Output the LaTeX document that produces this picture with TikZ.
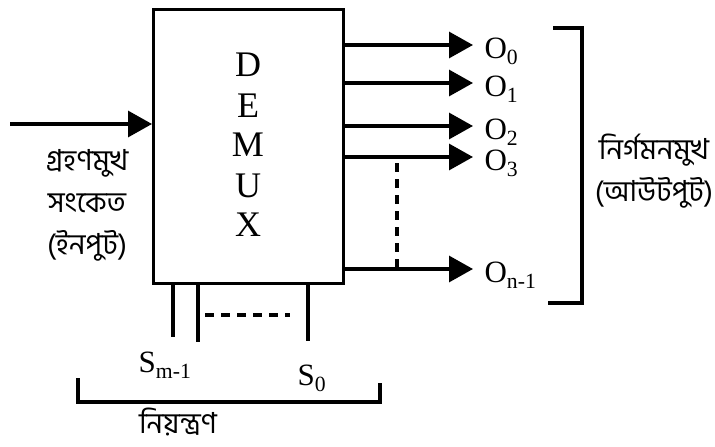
\documentclass[tikz,border=0pt]{standalone}
\usepackage{fontspec}
\setmainfont{Liberation Serif}
\newfontfamily\bnfont[Script=Bengali]{Hind Siliguri}
\usetikzlibrary{arrows.meta}
\tikzset{
  letterc/.style={font=\fontsize{36}{36}\selectfont,inner sep=0pt},
  pinlbl/.style={font=\fontsize{31}{31}\selectfont,inner sep=1pt},
  bnlbl/.style={font=\bnfont\fontsize{29}{42}\selectfont,align=center,inner sep=0pt},
  selline/.style={dash pattern=on 9pt off 7pt}
}

\begin{document}
\begin{tikzpicture}[x=1pt,y=-1pt,>={Triangle[length=24pt,width=26pt]},line width=3.2pt]
\useasboundingbox (0,0) rectangle (715,447);
% block
\node[draw,anchor=north west,minimum width=190pt,minimum height=274pt,inner sep=0pt] (demux) at (152,8) {};
\foreach \ch/\y in {D/65,E/106,M/145,U/186,X/225}{ \node[letterc] (let\ch) at (248,\y) {\ch}; }
% input
\coordinate (inA) at (10,124);
\draw[->] (inA) -- (inA -| demux.west);
\node[bnlbl] (inlbl) at (87,205) {গ্রহণমুখ\\সংকেত\\(ইনপুট)};
% outputs
\foreach \n/\y/\lab in {0/45/0,1/83/1,2/126/2,3/157/3,n/269/n-1}{
  \coordinate (tip\n) at (473,\y);
  \draw[->] (tip\n -| demux.east) -- (tip\n);
  \node[pinlbl,anchor=west] (o\n) at (482,\y+6) {O\textsubscript{\lab}};
}
\draw[selline] (397,163) -- (397,268);
\draw (553,28) -- (582,28) -- (582,303) -- (548,303);
\node[bnlbl] (outlbl) at (654,171) {নির্গমনমুখ\\(আউটপুট)};
% select lines
\foreach \x/\yb in {173/337,198/342,308/341}{ \draw (\x,0 |- demux.south) -- (\x,\yb); }
\draw[selline] (205,315) -- (290,315);
\node[pinlbl] (sm) at (165,365) {S\textsubscript{m-1}};
\node[pinlbl] (s0) at (312,378) {S\textsubscript{0}};
\draw (78,378) -- (78,402) -- (380,402) -- (380,383);
\node[bnlbl] (ctl) at (178,422) {নিয়ন্ত্রণ};
\end{tikzpicture}
\end{document}
